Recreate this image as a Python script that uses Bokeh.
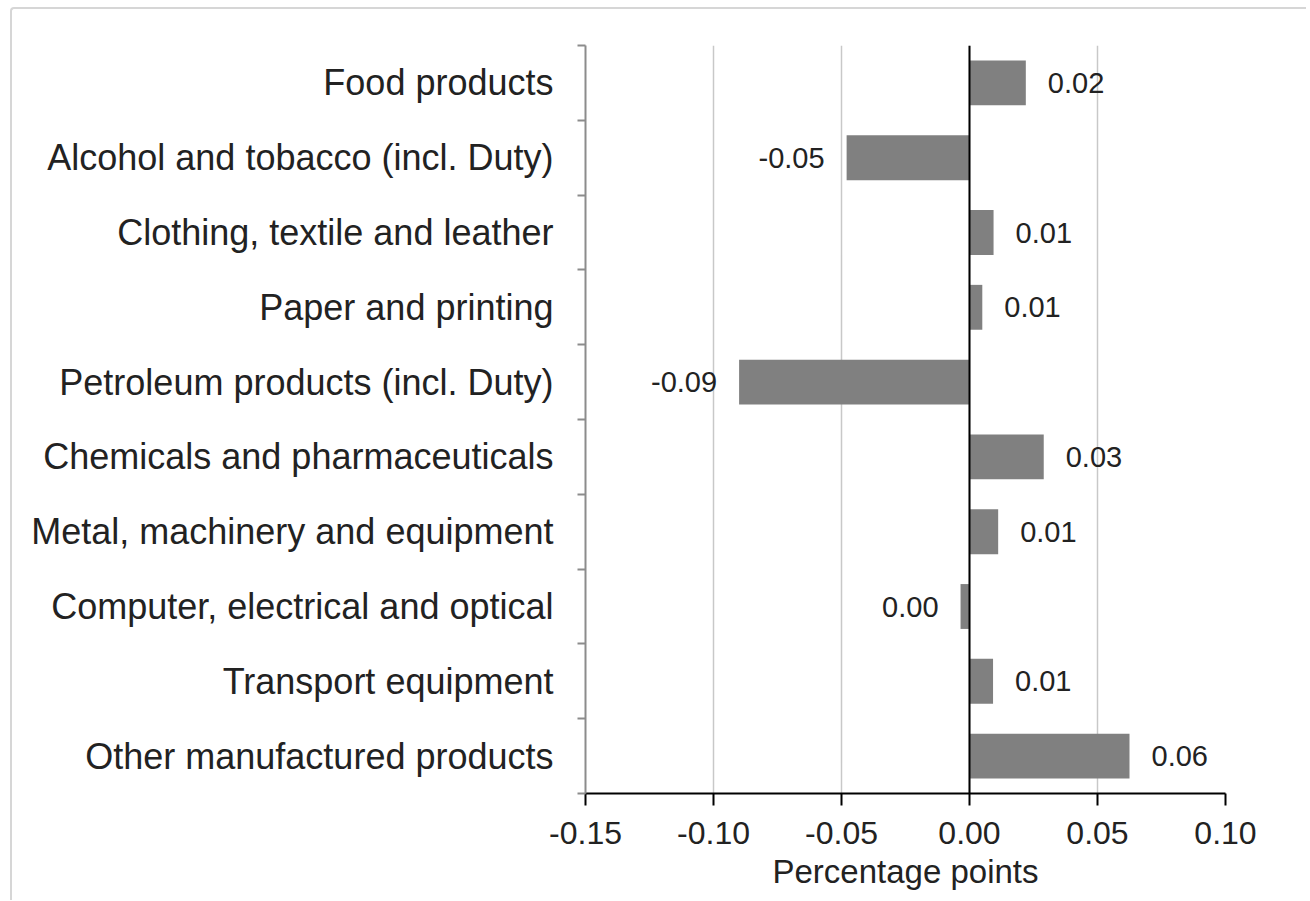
import numpy as np
from bokeh.plotting import figure
from bokeh.models import Range1d, FixedTicker, Span, ColumnDataSource, LabelSet
from bokeh.core.properties import value
from bokeh.embed import file_html
from bokeh.resources import INLINE

categories = [
    "Food products",
    "Alcohol and tobacco (incl. Duty)",
    "Clothing, textile and leather",
    "Paper and printing",
    "Petroleum products (incl. Duty)",
    "Chemicals and pharmaceuticals",
    "Metal, machinery and equipment",
    "Computer, electrical and optical",
    "Transport equipment",
    "Other manufactured products",
]
values = [0.022, -0.048, 0.0094, 0.005, -0.090, 0.029, 0.0112, -0.0035, 0.0092, 0.0625]
x_ticks = [-0.15, -0.10, -0.05, 0.00, 0.05, 0.10]
x_tick_labels = ["-0.15", "-0.10", "-0.05", "0.00", "0.05", "0.10"]

n = len(categories)
pos = [i + 0.5 for i in range(n)]
labels = [f"{v:.2f}".replace("-0.00", "0.00") for v in values]

W, H = 1296, 893
p = figure(width=W, height=H, output_backend="svg", toolbar_location=None,
           x_range=Range1d(-0.15, 0.10), y_range=Range1d(n, 0),
           min_border_left=573, min_border_top=36, min_border_right=83, min_border_bottom=109)
p.outline_line_color = None
p.background_fill_color = "white"
p.border_fill_color = "white"
p.styles = {"border-left": "2px solid #d6d6d6", "border-top": "2px solid #d6d6d6",
            "border-top-left-radius": "4px", "margin-left": "10px", "margin-top": "7px"}

src = ColumnDataSource(dict(y=pos, v=values, lab=labels,
                            pos_lab=[l if v >= 0 else "" for l, v in zip(labels, values)],
                            neg_lab=[l if v < 0 else "" for l, v in zip(labels, values)]))

p.hbar(y="y", left=0, right="v", height=0.6, source=src, fill_color="#808080", line_color=None)

zero = Span(location=0, dimension="height", line_color="black", line_width=2)
p.add_layout(zero)

font = "Liberation Sans"
lp = LabelSet(x="v", y="y", text="pos_lab", source=src, x_offset=22, text_align="left",
              text_baseline="middle", text_font=value(font), text_font_size=value("29px"),
              text_color="#222222")
ln = LabelSet(x="v", y="y", text="neg_lab", source=src, x_offset=-22, text_align="right",
              text_baseline="middle", text_font=value(font), text_font_size=value("29px"),
              text_color="#222222")
p.add_layout(lp)
p.add_layout(ln)

# grid
p.ygrid.grid_line_color = None
p.xgrid.ticker = FixedTicker(ticks=x_ticks)
p.xgrid.grid_line_color = "#c8c8c8"
p.xgrid.grid_line_width = 1.5

# x axis
xa = p.xaxis[0]
xa.ticker = FixedTicker(ticks=x_ticks, minor_ticks=[])
xa.major_label_overrides = {t: l for t, l in zip(x_ticks, x_tick_labels)}
xa.axis_line_color = "black"
xa.axis_line_width = 2
xa.major_tick_line_color = "black"
xa.major_tick_line_width = 2
xa.major_tick_out = 12
xa.major_tick_in = 0
xa.minor_tick_line_color = None
xa.major_label_text_font = font
xa.major_label_text_font_size = "32px"
xa.major_label_text_color = "#222222"
xa.major_label_standoff = 16
xa.axis_label = "Percentage points"
xa.axis_label_text_font = font
xa.axis_label_text_font_size = "33px"
xa.axis_label_text_font_style = "normal"
xa.axis_label_text_color = "#222222"
xa.axis_label_standoff = 6

# y axis
ya = p.yaxis[0]
ya.ticker = FixedTicker(ticks=pos, minor_ticks=list(range(n + 1)))
ya.major_label_overrides = {t: c for t, c in zip(pos, categories)}
ya.axis_line_color = "#8c8c8c"
ya.axis_line_width = 2
ya.major_tick_line_color = None
ya.major_tick_out = 0
ya.major_tick_in = 0
ya.minor_tick_line_color = "#8c8c8c"
ya.minor_tick_line_width = 2
ya.minor_tick_out = 8
ya.minor_tick_in = 0
ya.major_label_text_font = font
ya.major_label_text_font_size = "36px"
ya.major_label_text_color = "#222222"
ya.major_label_standoff = 24

open("out.html", "w").write(file_html(p, INLINE))
